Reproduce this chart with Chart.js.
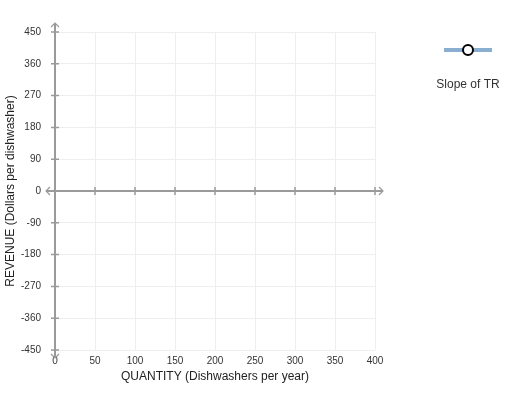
<!DOCTYPE html>
<html>
<head>
<meta charset="utf-8">
<script src="https://cdn.jsdelivr.net/npm/chart.js@4"></script>
<style>
  html, body { margin: 0; padding: 0; background: #fff; }
  #wrap { width: 522px; height: 396px; }
</style>
</head>
<body>
<div id="wrap"><canvas id="c" width="522" height="396"></canvas></div>
<script>
// empty graph: the student has not placed any points yet
const seriesLabel = 'Slope of TR';
const quantities = [];
const slopeValues = [];
const xTicks = [0, 50, 100, 150, 200, 250, 300, 350, 400];
const yTicks = [-450, -360, -270, -180, -90, 0, 90, 180, 270, 360, 450];

const AXIS = '#9a9a9a';
const FONT = 'Arial, "Liberation Sans", sans-serif';

// draws the cross axes at 0/0 with arrows and tick marks
const crossAxes = {
    id: 'crossAxes',
    afterDatasetsDraw(chart) {
        const { ctx, scales: { x, y } } = chart;
        const x0 = x.getPixelForValue(0);
        const y0 = y.getPixelForValue(0);
        const top = y.getPixelForValue(450), bot = y.getPixelForValue(-450);
        const left = x.getPixelForValue(0), right = x.getPixelForValue(400);
        ctx.save();
        ctx.strokeStyle = AXIS;
        ctx.lineWidth = 2;
        ctx.beginPath();
        ctx.moveTo(x0, top - 9); ctx.lineTo(x0, bot + 8);
        ctx.moveTo(left - 9, y0); ctx.lineTo(right + 8, y0);
        ctx.stroke();
        ctx.lineWidth = 1.5;
        ctx.beginPath();
        yTicks.forEach(v => {
            const p = y.getPixelForValue(v);
            ctx.moveTo(x0 - 4, p); ctx.lineTo(x0 + 4, p);
        });
        xTicks.forEach(v => {
            if (v === 0) return;
            const p = x.getPixelForValue(v);
            ctx.moveTo(p, y0 - 4); ctx.lineTo(p, y0 + 4);
        });
        ctx.stroke();
        // arrow heads
        ctx.lineWidth = 1.2;
        ctx.beginPath();
        ctx.moveTo(x0 - 4, top - 5); ctx.lineTo(x0, top - 9); ctx.lineTo(x0 + 4, top - 5);
        ctx.moveTo(x0 - 4, bot + 4); ctx.lineTo(x0, bot + 8); ctx.lineTo(x0 + 4, bot + 4);
        ctx.moveTo(left - 5, y0 - 4); ctx.lineTo(left - 9, y0); ctx.lineTo(left - 5, y0 + 4);
        ctx.moveTo(right + 4, y0 - 4); ctx.lineTo(right + 8, y0); ctx.lineTo(right + 4, y0 + 4);
        ctx.stroke();
        ctx.restore();
    }
};

// legend on the right: line with open circle, label underneath
const sideLegend = {
    id: 'sideLegend',
    afterDraw(chart) {
        const { ctx } = chart;
        const ds = chart.data.datasets[0];
        const cx = 468, cy = 50;
        ctx.save();
        ctx.strokeStyle = ds.borderColor;
        ctx.lineWidth = 4;
        ctx.beginPath();
        ctx.moveTo(cx - 24, cy); ctx.lineTo(cx + 24, cy);
        ctx.stroke();
        ctx.beginPath();
        ctx.arc(cx, cy, 5, 0, Math.PI * 2);
        ctx.fillStyle = '#fff';
        ctx.fill();
        ctx.lineWidth = 2;
        ctx.strokeStyle = '#000';
        ctx.stroke();
        ctx.fillStyle = '#333';
        ctx.font = '12px ' + FONT;
        ctx.textAlign = 'center';
        ctx.textBaseline = 'middle';
        ctx.fillText(ds.label, cx, cy + 35);
        ctx.restore();
    }
};

new Chart(document.getElementById('c'), {
    type: 'line',
    data: {
        datasets: [{
            label: seriesLabel,
            data: quantities.map((q, i) => ({ x: q, y: slopeValues[i] })),
            borderColor: '#8aaed0',
            borderWidth: 4,
            pointBackgroundColor: '#fff',
            pointBorderColor: '#000',
            pointBorderWidth: 2,
            pointRadius: 5,
        }],
    },
    options: {
        responsive: false,
        animation: false,
        layout: { padding: { top: 32, right: 147, left: 0, bottom: 8 } },
        plugins: { legend: { display: false }, tooltip: { enabled: false } },
        scales: {
            x: {
                type: 'linear', min: 0, max: 400,
                afterBuildTicks: s => { s.ticks = xTicks.map(v => ({ value: v })); },
                afterFit: s => { s.height = 38; },
                grid: { color: '#eeeeee', lineWidth: 1, drawTicks: false },
                border: { display: false },
                ticks: { color: '#333', font: { size: 10, family: FONT }, padding: 5, maxRotation: 0 },
                title: { display: true, text: 'QUANTITY (Dishwashers per year)', color: '#222',
                         font: { size: 12, family: FONT }, padding: { top: 0 } },
            },
            y: {
                type: 'linear', min: -450, max: 450,
                afterBuildTicks: s => { s.ticks = yTicks.map(v => ({ value: v })); },
                afterFit: s => { s.width = 55; },
                grid: { color: '#eeeeee', lineWidth: 1, drawTicks: false },
                border: { display: false },
                ticks: { color: '#333', font: { size: 10, family: FONT }, padding: 14 },
                title: { display: true, text: 'REVENUE (Dollars per dishwasher)', color: '#222',
                         font: { size: 12, family: FONT }, padding: { bottom: 0, top: 3 } },
            },
        },
    },
    plugins: [crossAxes, sideLegend],
});
</script>
</body>
</html>
